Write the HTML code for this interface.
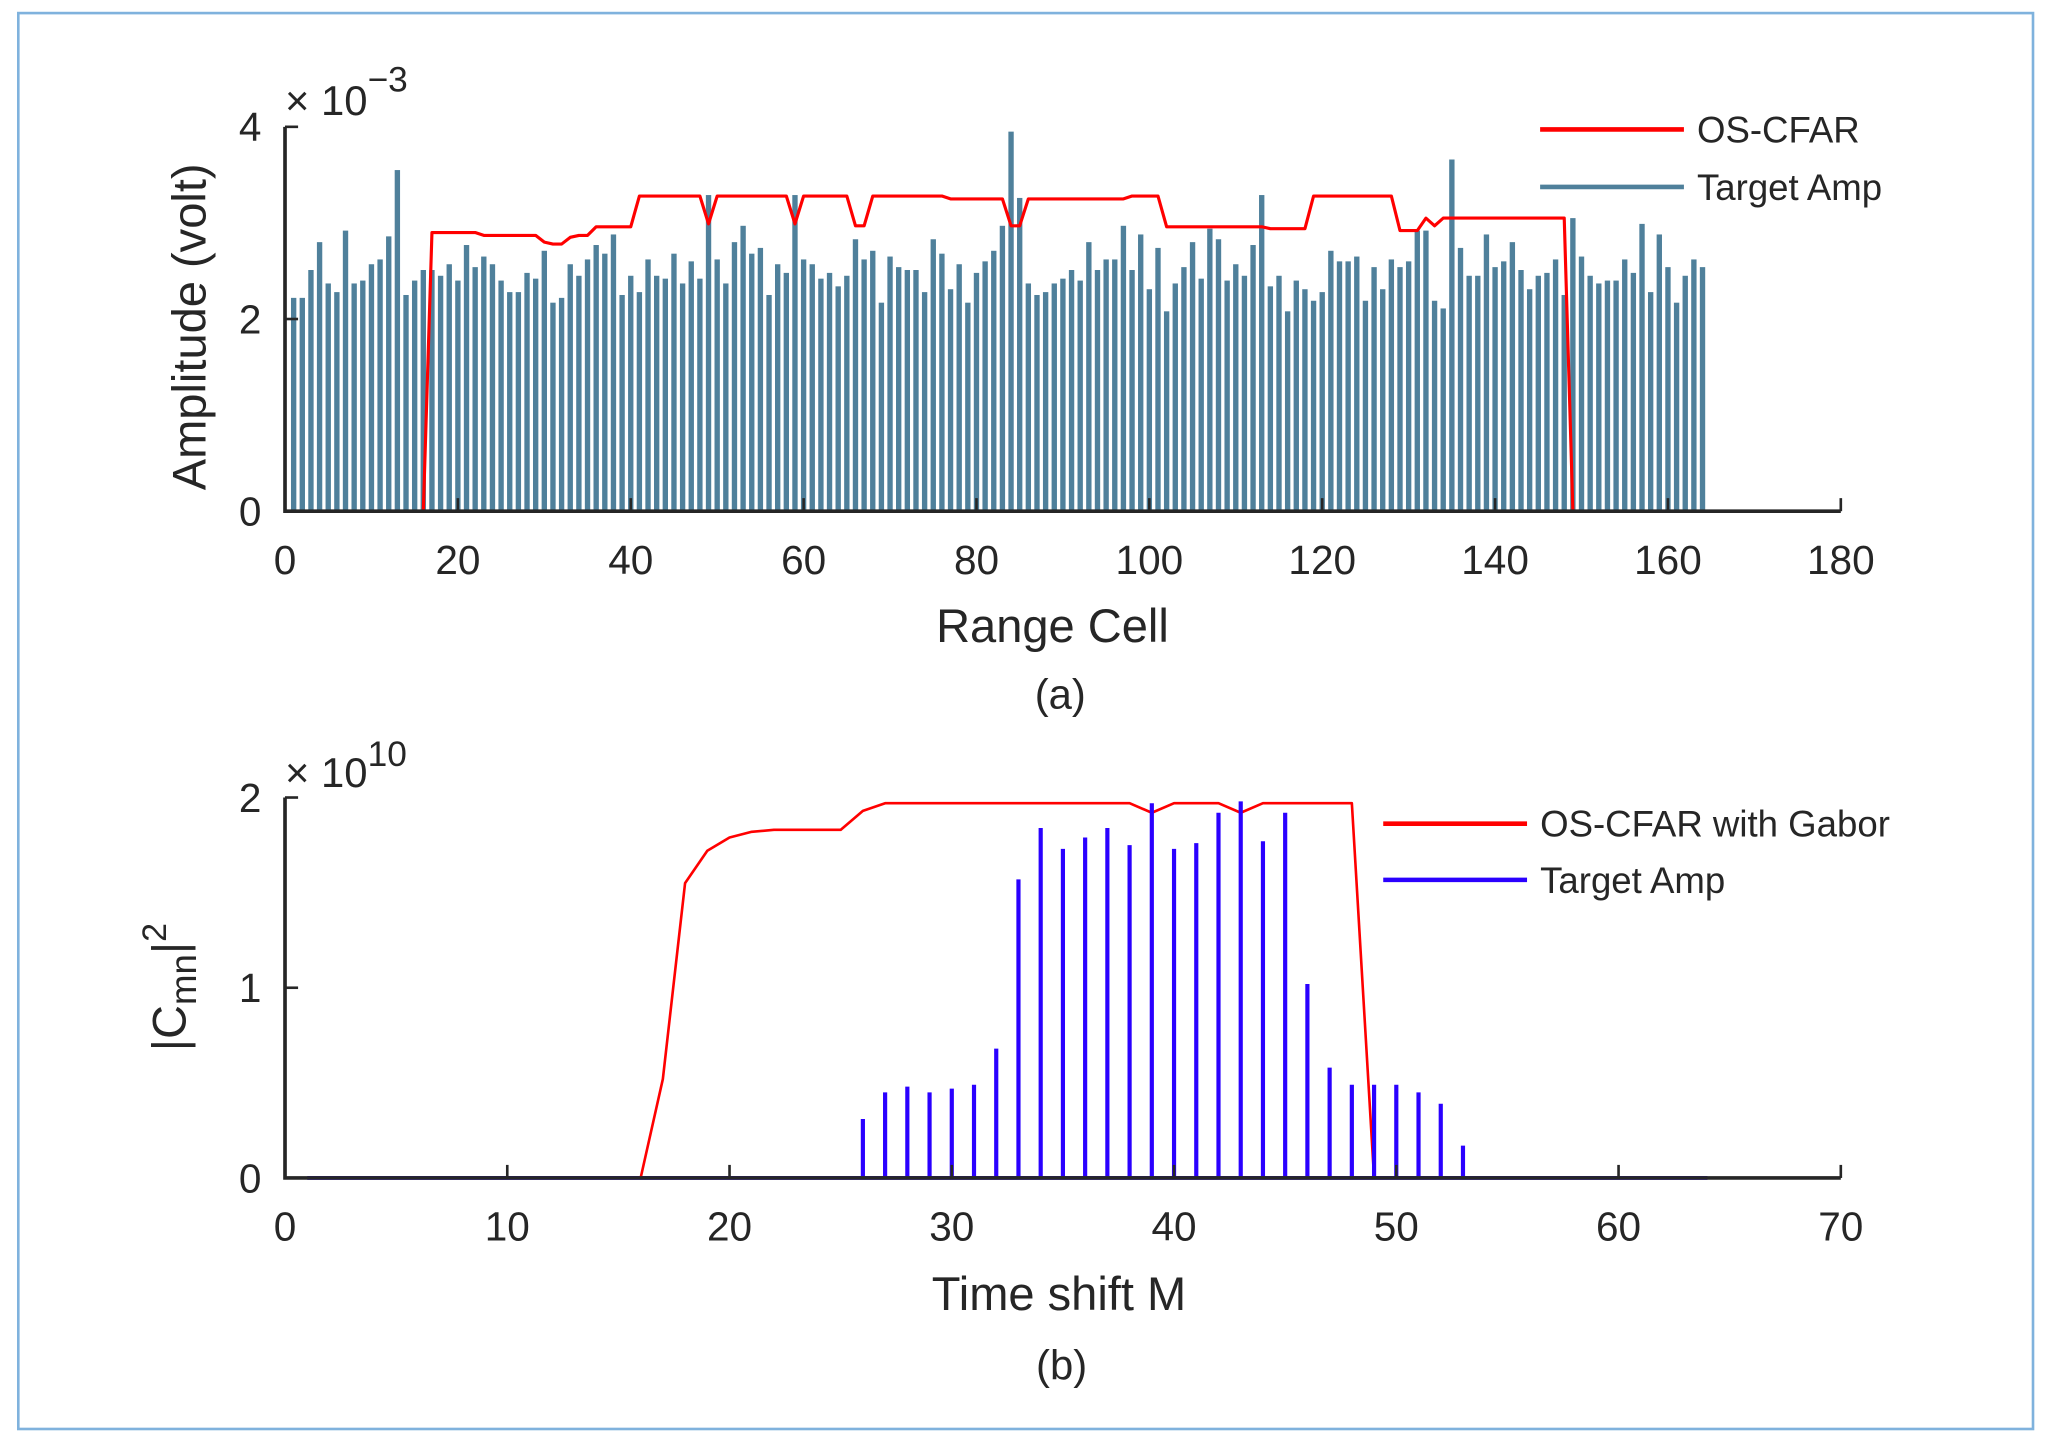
<!DOCTYPE html>
<html><head><meta charset="utf-8"><style>
html,body{margin:0;padding:0;background:#fff;}
svg{display:block;font-family:"Liberation Sans",Arial,sans-serif;}
</style></head><body>
<svg id="fig" width="2050" height="1446" viewBox="0 0 1568 1106" xmlns="http://www.w3.org/2000/svg">
<rect x="14" y="10" width="1541" height="1083" fill="#fff" stroke="#7fb2dd" stroke-width="2"/>
<g id="top"></g>
<g id="bot"></g>
</svg>
<script>
const NS='http://www.w3.org/2000/svg';
// ---- chart (a) data ----
const topCells=[];for(let i=1;i<=164;i++)topCells.push(i);
const topAmp=[2.22,2.22,2.51,2.80,2.37,2.28,2.92,2.37,2.40,2.57,2.62,2.86,3.55,2.25,2.40,2.51,2.51,2.45,2.57,2.40,
2.77,2.54,2.65,2.57,2.40,2.28,2.28,2.48,2.42,2.71,2.17,2.22,2.57,2.45,2.62,2.77,2.68,2.88,2.25,2.45,
2.28,2.62,2.45,2.42,2.68,2.37,2.60,2.42,3.29,2.62,2.37,2.80,2.97,2.68,2.74,2.25,2.57,2.48,3.29,2.62,
2.57,2.42,2.48,2.34,2.45,2.83,2.62,2.71,2.17,2.65,2.54,2.51,2.51,2.28,2.83,2.68,2.31,2.57,2.17,2.48,
2.60,2.71,2.97,3.95,3.26,2.37,2.25,2.28,2.37,2.42,2.51,2.40,2.80,2.51,2.62,2.62,2.97,2.51,2.88,2.31,
2.74,2.08,2.37,2.54,2.80,2.42,2.94,2.83,2.40,2.57,2.45,2.77,3.29,2.34,2.45,2.08,2.40,2.31,2.19,2.28,
2.71,2.60,2.60,2.65,2.19,2.54,2.31,2.62,2.54,2.60,2.92,2.92,2.19,2.11,3.66,2.74,2.45,2.45,2.88,2.54,
2.60,2.80,2.51,2.31,2.45,2.48,2.62,2.25,3.05,2.65,2.45,2.37,2.40,2.40,2.62,2.48,2.99,2.28,2.88,2.54,
2.17,2.45,2.62,2.54];
const topCfar=[0,0,0,0,0,0,0,0,0,0,0,0,0,0,0,0,2.90,2.90,2.90,2.90,
2.90,2.90,2.87,2.87,2.87,2.87,2.87,2.87,2.87,2.80,2.78,2.78,2.85,2.87,2.87,2.96,2.96,2.96,2.96,2.96,
3.28,3.28,3.28,3.28,3.28,3.28,3.28,3.28,2.99,3.28,3.28,3.28,3.28,3.28,3.28,3.28,3.28,3.28,2.99,3.28,
3.28,3.28,3.28,3.28,3.28,2.97,2.97,3.28,3.28,3.28,3.28,3.28,3.28,3.28,3.28,3.28,3.25,3.25,3.25,3.25,
3.25,3.25,3.25,2.97,2.97,3.25,3.25,3.25,3.25,3.25,3.25,3.25,3.25,3.25,3.25,3.25,3.25,3.28,3.28,3.28,
3.28,2.96,2.96,2.96,2.96,2.96,2.96,2.96,2.96,2.96,2.96,2.96,2.96,2.94,2.94,2.94,2.94,2.94,3.28,3.28,
3.28,3.28,3.28,3.28,3.28,3.28,3.28,3.28,2.92,2.92,2.92,3.05,2.97,3.05,3.05,3.05,3.05,3.05,3.05,3.05,
3.05,3.05,3.05,3.05,3.05,3.05,3.05,3.05,0,0,0,0,0,0,0,0,0,0,0,0,0,0,0,0];
const topXTicks=[0,20,40,60,80,100,120,140,160,180];
const topYTicks=[0,2,4];
// ---- chart (b) data ----
const botShifts=[];for(let i=26;i<=53;i++)botShifts.push(i);
const botAmp=[0.31,0.45,0.48,0.45,0.47,0.49,0.68,1.57,1.84,1.73,1.79,1.84,1.75,1.97,1.73,1.76,1.92,1.98,1.77,1.92,1.02,0.58,0.49,0.49,0.49,0.45,0.39,0.17];
const botCfarM=[];for(let i=1;i<=64;i++)botCfarM.push(i);
const botCfar=[0,0,0,0,0,0,0,0,0,0,0,0,0,0,0,0,0.52,1.55,1.72,1.79,1.82,1.83,1.83,1.83,1.83,1.93,1.97,1.97,1.97,1.97,
1.97,1.97,1.97,1.97,1.97,1.97,1.97,1.97,1.92,1.97,1.97,1.97,1.92,1.97,1.97,1.97,1.97,1.97,0,0,
0,0,0,0,0,0,0,0,0,0,0,0,0,0];
const botXTicks=[0,10,20,30,40,50,60,70];
const botYTicks=[0,1,2];

function el(tag,attrs,parent,txt){const e=document.createElementNS(NS,tag);for(const k in attrs)e.setAttribute(k,attrs[k]);if(txt!==undefined)e.textContent=txt;parent.appendChild(e);return e;}

// ---- chart (a) ----
const gA=document.getElementById('top');
const ax={x0:218,x1:1408,y0:391,y1:97,xmax:180,ymax:4};
const xA=v=>ax.x0+(ax.x1-ax.x0)*v/ax.xmax;
const yA=v=>ax.y0-(ax.y0-ax.y1)*v/ax.ymax;
const bw=(ax.x1-ax.x0)/ax.xmax*0.62;
topCells.forEach((c,i)=>{
  const r=el('rect',{x:xA(c)-bw/2,y:yA(topAmp[i]),width:bw,height:yA(0)-yA(topAmp[i]),fill:'#4f809b'},gA);
  
  
});
let pts=topCells.map((c,i)=>xA(c)+','+yA(topCfar[i])).join(' ');
const lA=el('polyline',{points:pts,fill:'none',stroke:'#ff0000','stroke-width':2.4,'stroke-linejoin':'round'},gA);


el('path',{d:`M${ax.x0},${ax.y1} V${ax.y0} H${ax.x1}`,fill:'none',stroke:'#262626','stroke-width':2.8,},gA);
topXTicks.forEach(t=>{
  el('line',{x1:xA(t),x2:xA(t),y1:ax.y0,y2:ax.y0-10,stroke:'#262626','stroke-width':2},gA);
  const tx=el('text',{x:xA(t),y:ax.y0+48,'font-size':31,'text-anchor':'middle',fill:'#262626'},gA,String(t));
  
  
});
topYTicks.forEach(t=>{
  el('line',{x1:ax.x0,x2:ax.x0+10,y1:yA(t),y2:yA(t),stroke:'#262626','stroke-width':2},gA);
  const tx=el('text',{x:ax.x0-18,y:yA(t)+11,'font-size':31,'text-anchor':'end',fill:'#262626'},gA,String(t));
  
  
});

// ---- chart (b) ----
const gB=document.getElementById('bot');
const bx={x0:218,x1:1408,y0:901,y1:610,xmax:70,ymax:2};
const xB=v=>bx.x0+(bx.x1-bx.x0)*v/bx.xmax;
const yB=v=>bx.y0-(bx.y0-bx.y1)*v/bx.ymax;
el('line',{x1:xB(1),x2:xB(64),y1:bx.y0,y2:bx.y0,stroke:'#2a00ff','stroke-width':3},gB);
pts=botCfarM.map((m,i)=>xB(m)+','+yB(botCfar[i])).join(' ');
const lB=el('polyline',{points:pts,fill:'none',stroke:'#ff0000','stroke-width':2,'stroke-linejoin':'round'},gB);


botShifts.forEach((m,i)=>{
  const s=el('line',{x1:xB(m),x2:xB(m),y1:yB(0),y2:yB(botAmp[i]),stroke:'#2a00ff','stroke-width':3.2},gB);
  
  
});
el('path',{d:`M${bx.x0},${bx.y1} V${bx.y0} H${bx.x1}`,fill:'none',stroke:'#262626','stroke-width':2.8,},gB);
botXTicks.forEach(t=>{
  el('line',{x1:xB(t),x2:xB(t),y1:bx.y0,y2:bx.y0-10,stroke:'#262626','stroke-width':2},gB);
  const tx=el('text',{x:xB(t),y:bx.y0+48,'font-size':31,'text-anchor':'middle',fill:'#262626'},gB,String(t));
  
  
});
botYTicks.forEach(t=>{
  el('line',{x1:bx.x0,x2:bx.x0+10,y1:yB(t),y2:yB(t),stroke:'#262626','stroke-width':2},gB);
  const tx=el('text',{x:bx.x0-18,y:yB(t)+11,'font-size':31,'text-anchor':'end',fill:'#262626'},gB,String(t));
  
  
});
</script>
<script>
const f=document.getElementById('fig');
f.insertAdjacentHTML('beforeend',`
<g fill="#262626">
<text x="218" y="88" font-size="32">× 10<tspan dy="-18" font-size="27">−3</tspan></text>
<text transform="translate(157,250) rotate(-90)" font-size="36" text-anchor="middle">Amplitude (volt)</text>
<text x="805" y="491" font-size="36" text-anchor="middle">Range Cell</text>
<text x="811" y="542" font-size="32" text-anchor="middle">(a)</text>
<line x1="1178" x2="1288" y1="99" y2="99" stroke="#ff0000" stroke-width="3.5"/>
<text x="1298" y="109" font-size="28">OS-CFAR</text>
<line x1="1178" x2="1288" y1="143" y2="143" stroke="#4f809b" stroke-width="3.5"/>
<text x="1298" y="153" font-size="28">Target Amp</text>
<text x="218" y="602" font-size="32">× 10<tspan dy="-16" font-size="27">10</tspan></text>
<text transform="translate(142,755) rotate(-90)" font-size="36" text-anchor="middle">|C<tspan dy="8" font-size="28">mn</tspan><tspan dy="-8">|</tspan><tspan dy="-15" font-size="26">2</tspan></text>
<text x="810" y="1002" font-size="36" text-anchor="middle">Time shift M</text>
<text x="812" y="1055" font-size="32" text-anchor="middle">(b)</text>
<line x1="1058" x2="1168" y1="630" y2="630" stroke="#ff0000" stroke-width="3.5"/>
<text x="1178" y="640" font-size="28">OS-CFAR with Gabor</text>
<line x1="1058" x2="1168" y1="673" y2="673" stroke="#2a00ff" stroke-width="3.5"/>
<text x="1178" y="683" font-size="28">Target Amp</text>
</g>`);
</script>
</body></html>
